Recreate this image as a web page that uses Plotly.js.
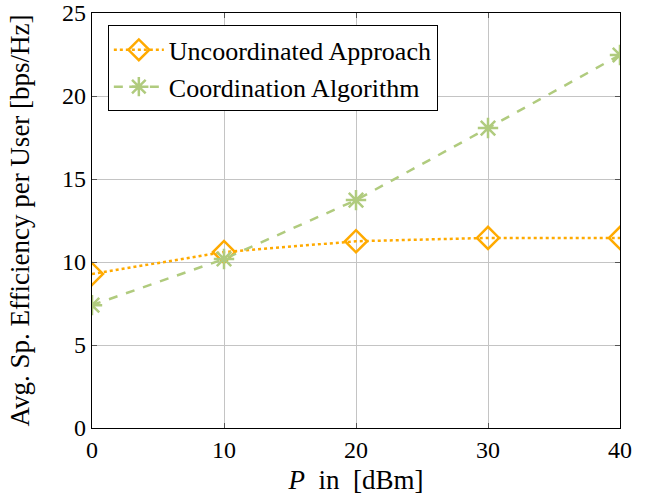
<!DOCTYPE html>
<html><head><meta charset="utf-8">
<script src="https://cdn.plot.ly/plotly-3.0.1.min.js"></script>
<style>html,body{margin:0;padding:0;background:#fff}</style>
</head><body>
<div id="chart" style="width:652px;height:499px"></div>
<script>
const power = [0, 10, 20, 30, 40];
const uncoordinated = [9.28, 10.6, 11.25, 11.45, 11.45];
const coordination = [7.4, 10.18, 13.73, 18.07, 22.47];
const seriesNames = ["Uncoordinated Approach", "Coordination Algorithm"];
const xTicks = [0, 10, 20, 30, 40];
const yTicks = [0, 5, 10, 15, 20, 25];

const font = "Liberation Serif, Times New Roman, serif";
const orange = "rgb(255,170,0)";
const green = "rgb(176,203,126)";

const traces = [
  {x: power, y: uncoordinated, name: seriesNames[0], mode: "lines+markers",
   line: {color: orange, width: 2.5, dash: "dot"},
   marker: {symbol: "diamond-open", size: 17, color: orange, line: {color: orange, width: 2.5}}},
  {x: power, y: coordination, name: seriesNames[1], mode: "lines+markers",
   line: {color: green, width: 2.5, dash: "dash"},
   marker: {symbol: "asterisk-open", size: 17, color: green, line: {color: green, width: 2.5}}}
];

const axisCommon = {
  showgrid: true, gridcolor: "#c4c4c4", gridwidth: 1,
  showline: true, linecolor: "#000", linewidth: 1.2, mirror: "ticks",
  ticks: "inside", ticklen: 5, tickcolor: "#555", zeroline: false,
  tickfont: {family: font, size: 24, color: "#000"}
};

const layout = {
  width: 652, height: 499,
  margin: {l: 92, r: 32, t: 13, b: 71},
  paper_bgcolor: "#fff", plot_bgcolor: "#fff",
  font: {family: font, color: "#000"},
  showlegend: true,
  legend: {x: 0.03, y: 0.97, xanchor: "left", yanchor: "top",
           bgcolor: "#fff", bordercolor: "#000", borderwidth: 1,
           font: {family: font, size: 26, color: "#000"},
           tracegroupgap: 0, itemwidth: 50},
  xaxis: Object.assign({}, axisCommon, {
    range: [0, 40], tickvals: xTicks, ticktext: xTicks.map(String),
    title: {text: "<i>P</i>&nbsp; in&nbsp; [dBm]", font: {family: font, size: 27, color: "#000"}, standoff: 8}
  }),
  yaxis: Object.assign({}, axisCommon, {
    range: [0, 25], tickvals: yTicks, ticktext: yTicks.map(String),
    title: {text: "Avg. Sp. Efficiency per User [bps/Hz]", font: {family: font, size: 27, color: "#000"}, standoff: 24}
  })
};

Plotly.newPlot("chart", traces, layout, {displayModeBar: false, staticPlot: true});
</script>
</body></html>
